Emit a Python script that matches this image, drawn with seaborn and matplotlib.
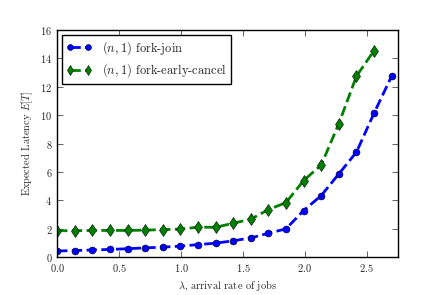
import numpy as np
import pandas as pd
import matplotlib
matplotlib.use("Agg")
import matplotlib.pyplot as plt
import seaborn as sns

# arrival rates (20 points from 0 to 2.7)
arrival_rate = [0.0, 0.142, 0.284, 0.426, 0.568, 0.711, 0.853, 0.995, 1.137, 1.279,
                1.421, 1.563, 1.705, 1.847, 1.989, 2.132, 2.274, 2.416, 2.558, 2.7]

# expected latency, (n,1) fork-join
fork_join = [0.42, 0.45, 0.49, 0.53, 0.58, 0.64, 0.69, 0.76, 0.87, 0.97,
             1.14, 1.34, 1.67, 1.98, 3.27, 4.33, 5.86, 7.39, 10.14, 12.75]

# expected latency, (n,1) fork-early-cancel (one point fewer)
fork_early_cancel = [1.85, 1.85, 1.87, 1.87, 1.87, 1.89, 1.93, 1.96, 2.10, 2.09,
                     2.38, 2.66, 3.34, 3.83, 5.38, 6.49, 9.40, 12.75, 14.55]

sns.set_style("ticks")
plt.rcParams['font.family'] = 'serif'
plt.rcParams['font.serif'] = ['cmr10', 'DejaVu Serif']
plt.rcParams['mathtext.fontset'] = 'cm'
plt.rcParams['axes.formatter.use_mathtext'] = True
plt.rcParams['xtick.direction'] = 'in'
plt.rcParams['ytick.direction'] = 'in'

fig = plt.figure(figsize=(4.43, 2.95), dpi=100)
ax = fig.add_axes([0.129, 0.129, 0.769, 0.769])

df_fj = pd.DataFrame({'lam': arrival_rate, 'lat': fork_join})
df_fec = pd.DataFrame({'lam': arrival_rate[:len(fork_early_cancel)], 'lat': fork_early_cancel})

sns.lineplot(data=df_fj, x='lam', y='lat', ax=ax, color='blue', linestyle='--',
             linewidth=2, marker='o', markersize=5, markeredgecolor='black',
             markeredgewidth=0.4, label=r'$(n,1)$ fork-join')
sns.lineplot(data=df_fec, x='lam', y='lat', ax=ax, color='green', linestyle='--',
             linewidth=2, marker='d', markersize=6, markeredgecolor='black',
             markeredgewidth=0.4, label=r'$(n,1)$ fork-early-cancel')

ax.set_xlim(0, 2.75)
ax.set_ylim(0, 16)
ax.set_xticks([0.0, 0.5, 1.0, 1.5, 2.0, 2.5])
ax.set_yticks(range(0, 17, 2))
ax.tick_params(labelsize=7.5, top=True, right=True, length=4, width=0.5)
ax.set_xlabel(r'$\lambda$, arrival rate of jobs', fontsize=7.5)
ax.set_ylabel(r'Expected Latency $E[T]$', fontsize=7.5)
for s in ax.spines.values():
    s.set_linewidth(1)
    s.set_color('black')

leg = ax.legend(loc='upper left', fontsize=9, frameon=True, fancybox=False,
                borderaxespad=0.4, handlelength=2.0, numpoints=2, markerscale=0.85,
                labelspacing=0.35, borderpad=0.35)
leg.get_frame().set_edgecolor('black')
leg.get_frame().set_linewidth(1)
leg.get_frame().set_alpha(1)

fig.savefig('out.png', dpi=100)
